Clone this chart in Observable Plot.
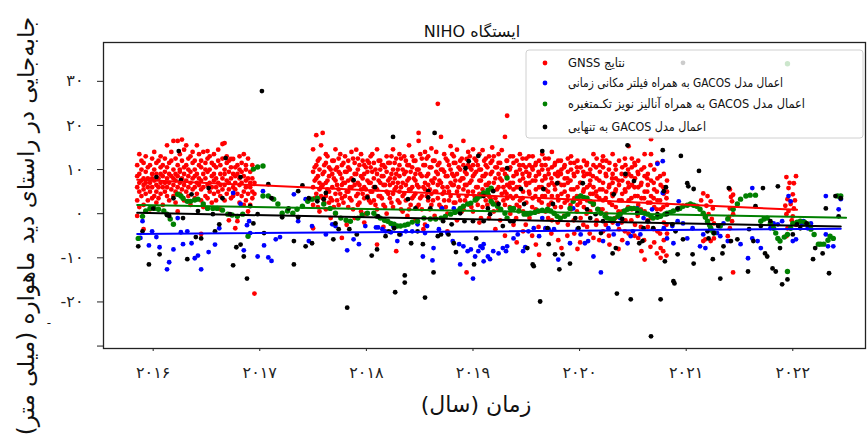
<!DOCTYPE html>
<html><head><meta charset="utf-8">
<script src="https://cdn.jsdelivr.net/npm/d3@7"></script>
<script src="https://cdn.jsdelivr.net/npm/@observablehq/plot@0.6"></script>
<style>body{margin:0;background:#fff}</style>
</head><body><div id="chart"></div>
<script>
const title = "ایستگاه NIHO";
const xLabel = "زمان (سال)";
const yLabel = "جابه‌جایی در راستای دید ماهواره (میلی متر)";
const seriesLabels = ["نتایج GNSS", "اعمال مدل GACOS به همراه فیلتر مکانی زمانی", "اعمال مدل GACOS به همراه آنالیز نویز تکـمتغیره", "اعمال مدل GACOS به تنهایی"];
const seriesColors = ["#ff0000", "#0000ff", "#008000", "#000000"];
const xTicks = [2016, 2017, 2018, 2019, 2020, 2021, 2022];
const yTicks = [-30, -20, -10, 0, 10, 20, 30];

// GNSS results: [time (year), displacement values (mm)]
const redCols = [
[2015.85,[6,8.5,11,3,-0.5]],[2015.87,[13.5,9,5,1.5,7]],[2015.89,[12,7.5,4,10]],[2015.91,[8,5.5,2,11.5,6.5,-3.5]],
[2015.93,[9.5,4.5,7,13]],[2015.95,[6,10.5,3,8]],[2015.97,[11,7,5,1]],[2015.99,[9,12.5,6,3.5,8]],
[2016.01,[7.5,10,4,14]],[2016.03,[5,9,11.5,6.5,2.5]],[2016.05,[8,12,3.5,6]],[2016.07,[10.5,7,4.5,13,9]],
[2016.09,[6,11,8.5,2]],[2016.11,[9.5,5,12.5,7]],[2016.13,[15.5,8,4,10.5,6]],[2016.15,[7,11.5,3,9]],
[2016.17,[12,5.5,8.5,14]],[2016.19,[6.5,10,16.5,4,8]],[2016.21,[9,12.5,5,7.5,2.5]],[2016.23,[16.5,11,6,8.5,0.5]],
[2016.25,[7,13.5,4.5,10,9.5]],[2016.27,[16.8,8,5.5,12]],[2016.29,[10.5,6.5,14.5,3,9]],[2016.31,[15.5,7.5,11,5]],
[2016.33,[8.5,12.5,4,10,6]],[2016.35,[9.5,13,7,2]],[2016.37,[11.5,5.5,8,14]],[2016.39,[6,10,12,3.5,8.5]],
[2016.41,[15.5,9,4.5,7]],[2016.43,[11,6.5,13.5,8]],[2016.45,[7.5,10.5,3,12,5.5,-4.6]],[2016.47,[14,9,6,1.5]],
[2016.49,[8,11.5,4,10]],[2016.51,[14.2,6.5,9.5,12.5,3.5]],[2016.53,[7,10,5,13]],[2016.55,[11.5,8.5,2.5,6]],
[2016.57,[13.5,9,4.5,7.5,11]],[2016.59,[6,10.5,3,8]],[2016.61,[12,7,14.5,5]],[2016.63,[9,4,11,1,6.5]],
[2016.65,[15.8,8,12.5,5.5]],[2016.67,[16,10,6.5,3,9]],[2016.69,[7.5,11.5,4.5,13]],[2016.71,[9.5,5.5,12,-1.5,7]],
[2016.73,[12.4,8,3.5,10.5]],[2016.75,[6,9,12.4,4]],[2016.77,[10.5,7,-3.3,5.5,8.5]],[2016.79,[11,4.5,9,-1.7]],
[2016.81,[13,6.5,8,2.5,10]],[2016.83,[7,11.5,4,9.5]],[2016.85,[13.5,8.5,5,2]],[2016.87,[10,6,3,11,7.5]],
[2016.89,[8,12.5,4.5,0.5]],[2016.91,[9.5,6,2,7]],[2016.93,[11,5,8,3.5]],[2016.95,[-18.1,7,4.5]],
[2017.50,[14.6,6,9.5,2,-3.3]],[2017.53,[17.8,8,4.5,11]],[2017.56,[10,5.5,12.5,0.5,7]],[2017.59,[18.3,9,3.5,6.5]],
[2017.62,[11.5,7,4,13.5,1]],[2017.65,[8.5,5,10.5,2.5]],[2017.68,[12,6,9,3]],[2017.71,[14.6,7.5,4.5,10,0]],
[2017.74,[9.5,5.5,12.5,2]],[2017.77,[6.5,11,3.5,-5.5,8]],[2017.80,[13,7,4,9.5]],[2017.83,[10.5,5,12,1.5,7.5]],
[2017.86,[8,14,3,6]],[2017.89,[11.5,6.5,9,-1]],[2017.92,[7,12.5,4.5,10,2]],[2017.95,[13.5,8.5,5.5,0.5]],
[2017.98,[9,6,11,3.5,-2]],[2018.01,[12,7.5,4,9.5]],[2018.04,[10.5,5,13,2.5,7]],[2018.07,[8,11.5,3,6]],
[2018.10,[14.6,9,5.5,1,-7]],[2018.13,[7,12,4,10]],[2018.16,[11,6.5,8.5,2,-3]],[2018.19,[13,9.5,5,0]],
[2018.22,[8,11.5,3.5,6.5]],[2018.25,[10,14.6,7,4.5,1.5]],[2018.28,[12.5,6,9,-8.5]],[2018.31,[8.5,11,5,2.5,13.5]],
[2018.34,[7,10,4,0.5]],[2018.37,[12,6.5,9.5,3]],[2018.40,[15.5,8,5.5,1,11]],[2018.43,[10.5,6,13,3.5]],
[2018.46,[7.5,12,4.5,9,-1.5]],[2018.49,[18.3,16.5,10,6,2]],[2018.52,[8.5,12.5,4,1]],[2018.55,[11,7,14,5.5,-2.5]],
[2018.58,[9,13,3,6.5]],[2018.61,[14.8,10.5,7.5,2,4.5]],[2018.64,[8,12,5,-0.5]],[2018.67,[24.9,11,6.5,3.5,9]],
[2018.70,[17.4,7,10,1.5]],[2018.73,[9.5,13.5,5,3]],[2018.76,[12,6,8.5,0,-4]],[2018.79,[15.3,10,4,7]],
[2018.82,[11.5,6.5,2.5,13,8.5]],[2018.85,[14.5,9,5,-1.5]],[2018.88,[12,7.5,3,10]],[2018.91,[16.5,8,5.5,1,11]],
[2018.94,[12.4,9,4,6.5,-13.3]],[2018.97,[10.5,7,2,13]],[2019.00,[8.5,14.6,5,0.5,11]],[2019.03,[12,6,9.5,3]],
[2019.06,[10,7.5,4.5,13.5,-2]],[2019.09,[14.4,8.5,5.5,1.5]],[2019.12,[11,6.5,3,9,12.5]],[2019.15,[13,7,4,-1]],
[2019.18,[9.5,12,5.5,2.5,15]],[2019.21,[8,10.5,3.5,-3.5]],[2019.24,[13.5,6,9,1,11.5]],[2019.27,[14.4,7.5,4.5,10]],
[2019.30,[17.4,9,5,2,-5]],[2019.32,[22.2,12,6.5,3.5]],[2019.35,[10.5,7,4,0,13]],[2019.38,[8.5,11.5,5.5,-2.5]],
[2019.41,[12,6,9,2,-6.5]],[2019.44,[10,7.5,3,13.5]],[2019.47,[8,11,5,0.5,-4]],[2019.50,[12.5,6.5,9.5,2.5]],
[2019.53,[9,4.5,11,-1,7]],[2019.56,[13,7.5,3.5,10]],[2019.59,[8.5,5.5,11.5,1,-7]],[2019.62,[12,6,9,-9.3,3]],
[2019.65,[10,4,7.5,13.5]],[2019.68,[8,11,5.5,0.5,-3.5]],[2019.71,[12.5,6.5,2,9]],[2019.74,[7,10.5,4,-1.5,14]],
[2019.77,[9,5.5,11.5,1.5]],[2019.80,[12,7,3,-6,9.5]],[2019.83,[6.5,10,4.5,-7.8]],[2019.86,[11,8,2.5,5]],
[2019.89,[7,12.5,4,-2.5,9.5]],[2019.92,[10,5.5,1,13]],[2019.95,[8.5,11.5,3.5,-4.5]],[2019.98,[6,9.5,2,12,-8]],
[2020.01,[10.5,7,4,-1]],[2020.04,[12,5.5,8.5,1.5]],[2020.07,[9,3,11.5,-3,6]],[2020.10,[7.5,10,4.5,0.5]],
[2020.13,[11,6,2.5,13.5,-5.5]],[2020.16,[8,12.5,4,-1.5]],[2020.19,[9.5,5.5,1,11]],[2020.22,[7,10.5,3,-4,13]],
[2020.25,[8.5,5,12,0]],[2020.28,[11.5,6.5,2.5,-7]],[2020.31,[9,4,13.5,-2,7]],[2020.34,[10,5.5,1.5,8]],
[2020.37,[12,6.5,-3.5,3]],[2020.40,[7.5,10.5,4.5,-6,0.5]],[2020.43,[11,5,8.5,-1.5]],[2020.46,[15.3,9,3,-4.5,6]],
[2020.49,[10.5,6.5,1,12.5]],[2020.52,[8,4,-2.5,11]],[2020.55,[12,6,2,-5.5,9]],[2020.58,[7,10,3.5,-8.5]],
[2020.61,[13.5,5,0.5,8.5,-10.4]],[2020.64,[9,6.5,-3,2.5]],[2020.67,[16.9,13.5,7.5,-1,4]],[2020.70,[10,5.5,-6.5,1.5]],
[2020.73,[8,3,-4,11.5]],[2020.76,[6.5,-7.8,1,-10]],[2020.79,[9,4.5,-2,-6]],[2020.82,[5,2,-4.5,7.5]],
[2017.515,[3.5,10.5,7.5]],[2017.545,[12,1.5,8.5]],[2017.575,[6,15.5,4]],[2017.605,[9.5,2.5,11]],
[2017.635,[5.5,13,7.5]],[2017.665,[10,3.5,-1]],[2017.695,[8,12,1.5]],[2017.725,[6.5,10.5,3]],
[2017.755,[9,4.5,13.5]],[2017.785,[11.5,7,2.5]],[2017.815,[5,9.5,-2.5]],[2017.845,[10,6,3.5]],
[2017.875,[12.5,7.5,1]],[2017.905,[4,9,14.5]],[2017.935,[6.5,11,2.5]],[2017.965,[8,4.5,12]],
[2017.995,[10.5,5.5,0]],[2018.025,[7,11.5,3]],[2018.055,[9.5,5,13.5]],[2018.085,[6,10,2]],
[2018.115,[12,7.5,4]],[2018.145,[8.5,3.5,11]],[2018.175,[6.5,10.5,1.5]],[2018.205,[11.5,4.5,7.5]],
[2018.235,[9,13,2.5]],[2018.265,[5.5,8,11.5]],[2018.295,[7,3,10]],[2018.325,[12.5,6,1]],
[2018.355,[9,4.5,13]],[2018.385,[7.5,11,-0.5]],[2018.415,[5.5,9.5,2]],[2018.445,[12,8,4]],
[2018.475,[6.5,10,1.5]],[2018.505,[9,13.5,3.5]],[2018.535,[6,11,-3.5]],[2018.565,[8.5,4,12.5]],
[2018.595,[10.5,5.5,1]],[2018.625,[7,12,3]],[2018.655,[9.5,5,14]],[2018.685,[11.5,7.5,2]],
[2018.715,[6,10,4.5]],[2018.745,[12.5,8.5,1.5]],[2018.775,[5,11,3]],[2018.805,[9,6.5,13.5]],
[2018.835,[7.5,11.5,2.5]],[2018.865,[10.5,4,6]],[2018.895,[8,12.5,0.5]],[2018.925,[6.5,9.5,3]],
[2018.955,[11,5,14]],[2018.985,[7.5,10,1.5]],[2019.015,[9,4,12.5]],[2019.045,[6,11,2]],
[2019.075,[10,7.5,-1]],[2019.105,[12,4.5,8.5]],[2019.135,[6.5,10.5,2]],[2019.165,[9,3.5,11.5]],
[2019.195,[7,13,0.5]],[2019.225,[10.5,5.5,2.5]],[2019.255,[8,11.5,-1.5]],[2019.285,[6,10,3]],
[2019.315,[8.5,4.5,12]],[2019.345,[10,6,1.5]],[2019.375,[7,13,3.5]],[2019.405,[9.5,4,-1]],
[2019.435,[6,11,1.5]],[2019.465,[9,3.5,12.5]],[2019.495,[7,10.5,-2.5]],[2019.525,[5,8.5,13]],
[2019.555,[10.5,1.5,-5]],[2019.585,[7.5,4,11]],[2019.615,[9.5,0.5,-3]],[2019.645,[6,11,2.5]],
[2019.675,[8.5,4,12.5]],[2019.705,[5,10,-1]],[2019.735,[8,2.5,-4.5]],[2019.765,[11,6.5,0]],
[2019.795,[4,8.5,-2]],[2019.825,[9,1.5,12]],[2019.855,[6.5,-0.5,10.5]],[2019.885,[3,8,-5]],
[2019.915,[7.5,11.5,2]],[2019.945,[5.5,-1.5,9]],[2019.975,[4,10.5,0.5]],[2020.005,[7,2.5,-6.5]],
[2020.035,[9.5,5,-2.5]],[2020.065,[3.5,11,0]],[2020.095,[6.5,-4.5,9]],[2020.125,[8.5,2,4.5]],
[2020.155,[10.5,5,-2.5]],[2020.185,[3.5,7.5,-6]],[2020.215,[5.5,1,12]],[2020.245,[9,-2.5,3.5]],
[2020.275,[6,10,-5]],[2020.305,[2,8,4.5]],[2020.335,[11,-1,5]],[2020.365,[7.5,0.5,-8]],
[2020.395,[9,3,-2]],[2020.425,[5.5,12.5,-4]],[2020.455,[7,1.5,10]],[2020.485,[3.5,-1.5,8.5]],
[2020.515,[6,-5,11.5]],[2020.545,[4,9.5,-0.5]],[2020.575,[6.5,-3,1]],[2020.605,[10.5,3.5,-6]],
[2020.635,[5,-1.5,8]],[2020.665,[2.5,11,-7.5]],[2020.695,[7,-3.5,3.5]],[2020.725,[5,-9,1]],
[2020.755,[3,-4.5,8.5]],[2020.785,[1.5,-8.5,6]],[2020.815,[3.5,-2.5,-9.5]],
[2021.14,[3]],[2021.16,[4.6,-0.1,-6.2]],[2021.18,[-5.8]],[2021.19,[1.8]],[2021.20,[4]],[2021.21,[-0.1]],
[2021.23,[2.8,-3.3,-6.2]],[2021.24,[-1.2]],[2021.25,[1.2]],[2021.26,[-2.2,-5.6]],
[2021.39,[-5.1]],[2021.40,[-0.8]],[2021.41,[5.5,1.2,-3.3,-6.2]],[2021.42,[3.8]],[2021.43,[2.8,-1.7]],[2021.44,[4.3,-0.1,-13.3]],
[2021.93,[1.8]],[2021.94,[8.3,-0.1,-5.1]],[2021.95,[3.3,-3.3]],[2021.96,[5.8,0.6]],[2021.97,[7]],[2021.98,[2.2]],
[2021.99,[-1.5]],[2022.00,[4.4,-0.6]],[2022.01,[6.9,1.2]],[2022.02,[3]],[2022.03,[8.5,-2.5]]
];

// GACOS + spatio-temporal filter: [time, value]
const blue = [
[2015.90,-1.7],[2015.88,-5.5],[2015.96,-7.2],[2015.99,-4.0],[2016.03,-5.3],[2016.06,-7.6],[2016.13,-12.6],[2016.15,-11.0],
[2016.19,-8.1],[2016.23,-1.0],[2016.26,-4.2],[2016.28,-6.9],[2016.32,-4.0],[2016.36,-6.7],[2016.39,-10.1],[2016.42,-9.5],
[2016.45,-12.6],[2016.52,-8.7],[2016.58,-7.0],[2016.62,-3.3],[2016.75,4.7],[2016.82,2.2],[2016.85,-8.3],[2016.88,-2.6],
[2016.90,-1.7],[2016.91,-4.4],[2016.98,-9.7],[2017.03,5.1],[2017.04,-7.2],[2017.08,-9.9],[2017.11,-10.7],[2017.15,-5.8],
[2017.19,-5.3],[2017.32,4.4],[2017.36,-1.7],[2017.43,3.3],[2017.49,-2.8],[2017.46,-6.2],[2017.62,-4.7],[2017.68,-2.4],
[2017.71,-2.8],[2017.82,-8.3],[2017.88,-5.8],[2017.93,-6.9],[2017.99,-2.8],[2018.09,-3.1],[2018.11,-3.1],[2018.15,-3.5],
[2018.18,-4.0],[2018.23,-4.2],[2018.25,-2.8],[2018.29,-6.2],[2018.32,-4.7],[2018.37,-4.0],[2018.43,-4.0],[2018.48,-2.4],
[2018.53,-9.7],[2018.55,-4.4],[2018.57,-2.8],[2018.62,-10.6],[2018.63,-7.8],[2018.68,-3.5],[2018.71,1.2],[2018.76,-4.4],
[2018.81,-6.2],[2018.82,1.2],[2018.87,-6.9],[2018.88,-11.5],[2018.91,-7.4],[2018.95,-8.5],[2018.98,-8.1],[2019.00,-14.7],
[2019.02,-9.7],[2019.05,-8.5],[2019.09,-7.8],[2019.10,-6.9],[2019.14,-9.7],[2019.16,-10.3],[2019.07,-7.4],[2019.10,-10.8],
[2019.19,-8.5],[2019.24,-9.0],[2019.28,-7.8],[2019.31,-8.5],[2019.32,-7.4],[2019.38,-5.6],[2019.42,-4.7],[2019.47,-8.5],
[2019.49,-7.6],[2019.52,-4.0],[2019.57,-3.3],[2019.62,-5.1],[2019.65,-1.0],[2019.68,-3.3],[2019.71,-3.5],[2019.76,-3.5],
[2019.80,-10.4],[2019.91,-6.7],[2019.94,1.2],[2019.98,-3.5],[2020.01,-4.7],[2020.05,-6.7],[2020.08,-6.2],[2020.13,-9.7],
[2020.20,-13.3],[2020.22,-6.2],[2020.27,-3.3],[2020.32,-4.7],[2020.36,-2.4],[2020.38,-1.0],[2020.45,-6.7],[2020.48,-5.1],
[2020.50,-4.0],[2020.54,1.2],[2020.57,-4.7],[2020.60,-1.0],[2020.64,-1.7],[2020.68,1.0],[2020.73,11.3],[2020.78,11.9],
[2020.78,4.7],[2020.79,-3.3],[2020.82,-5.6],[2020.87,-2.8],[2020.88,-6.7],[2020.92,-1.7],[2020.93,2.8],[2020.97,-2.2],
[2021.01,-5.6],[2021.06,-3.3],[2021.13,-7.4],[2021.18,-7.8],[2021.16,-4.7],[2021.29,-4.4],[2021.32,-5.1],[2021.35,-2.2],
[2021.39,-6.2],[2021.51,-6.9],[2021.44,1.0],[2021.58,-10.1],[2021.62,5.8],[2021.62,-5.6],[2021.67,-6.2],[2021.70,-7.8],
[2021.79,-3.3],[2021.82,-2.2],[2021.86,-2.4],[2021.90,-1.7],[2021.96,4.0],[2021.98,2.8],[2022.00,-6.2],[2022.03,-5.8],
[2022.09,-2.4],[2022.10,-1.7],[2022.14,-3.3],[2022.17,-2.2],[2022.31,4.0],[2022.31,-4.7],[2022.33,-7.4],[2022.38,-7.4],
[2022.43,1.0],[2022.45,3.3]
];

// GACOS + variable noise analysis: [time, value]
const green = [
[2015.86,-5.6],[2015.90,-0.6],[2015.93,0.6],[2015.97,1.2],[2016.01,1.2],[2016.05,1.0],[2016.10,0.6],[2016.13,-0.1],
[2016.16,-1.2],[2016.19,-2.4],[2016.23,4.4],[2016.26,4.0],[2016.28,3.5],[2016.32,2.8],[2016.35,2.8],[2016.39,3.1],
[2016.42,3.3],[2016.47,2.2],[2016.51,1.2],[2016.56,1.2],[2016.60,1.2],[2016.65,0.8],[2016.70,-0.1],[2016.74,-0.3],
[2016.79,-0.6],[2016.84,-0.1],[2016.89,-5.1],[2016.94,10.1],[2016.98,10.6],[2017.03,10.8],[2017.03,4.0],[2017.08,4.0],
[2017.13,3.3],[2017.17,2.2],[2017.21,0.1],[2017.26,0.6],[2017.31,0.1],[2017.35,1.0],[2017.40,1.7],[2017.45,2.8],
[2017.49,3.3],[2017.54,3.5],[2017.60,2.2],[2017.66,1.2],[2017.71,0.1],[2017.76,-1.0],[2017.81,-1.5],[2017.85,-1.7],
[2017.92,-1.0],[2017.96,-0.3],[2018.01,0.1],[2018.07,0.1],[2018.10,-0.6],[2018.13,-1.0],[2018.17,-1.5],[2018.20,-1.7],
[2018.23,-2.2],[2018.26,-2.4],[2018.29,-2.8],[2018.32,-2.8],[2018.36,-2.6],[2018.39,-2.4],[2018.43,-1.9],[2018.48,-1.7],
[2018.54,-1.0],[2018.60,-1.2],[2018.65,-1.2],[2018.70,-1.0],[2018.74,-0.6],[2018.79,-0.1],[2018.83,0.3],[2018.86,0.6],
[2018.88,1.2],[2018.91,1.7],[2018.95,2.2],[2018.98,2.4],[2019.02,3.1],[2019.04,3.5],[2019.07,4.0],[2019.10,4.7],
[2019.14,5.3],[2019.17,5.8],[2019.14,4.4],[2019.17,2.8],[2019.19,2.2],[2019.23,1.7],[2019.26,1.0],[2019.30,0.1],
[2019.32,-1.0],[2019.35,1.2],[2019.38,1.2],[2019.32,8.1],[2019.43,0.6],[2019.48,-0.1],[2019.51,-0.1],[2019.54,0.1],
[2019.58,0.3],[2019.61,0.6],[2019.65,0.8],[2019.70,1.0],[2019.73,0.6],[2019.76,0.1],[2019.79,-0.6],[2019.82,-1.0],
[2019.86,-0.6],[2019.89,-0.1],[2019.91,1.2],[2019.94,2.8],[2019.98,3.5],[2020.01,4.0],[2020.04,3.7],[2020.07,3.5],
[2020.10,2.8],[2020.13,2.2],[2020.17,1.0],[2020.20,0.1],[2020.24,-0.6],[2020.26,-1.0],[2020.29,-1.2],[2020.32,-1.2],
[2020.36,-0.6],[2020.38,-0.1],[2020.42,0.6],[2020.45,1.0],[2020.48,1.2],[2020.51,1.2],[2020.54,1.0],[2020.57,0.6],
[2020.61,0.1],[2020.64,-0.1],[2020.67,-0.6],[2020.69,-1.0],[2020.73,-0.8],[2020.76,-0.6],[2020.80,-0.1],[2020.82,0.1],
[2020.85,0.3],[2020.88,0.6],[2020.92,1.0],[2020.94,1.2],[2020.97,1.7],[2021.01,1.9],[2021.04,2.2],[2021.07,1.9],
[2021.10,1.7],[2021.13,1.0],[2021.16,0.1],[2021.18,-0.8],[2021.20,-1.7],[2021.22,-2.6],[2021.23,-3.3],[2021.25,-4.0],
[2021.26,-4.4],[2021.32,-2.8],[2021.39,-1.2],[2021.44,1.0],[2021.48,2.2],[2021.51,3.3],[2021.56,4.0],[2021.60,4.2],
[2021.65,4.2],[2021.70,-1.7],[2021.73,-1.2],[2021.76,-1.0],[2021.79,-2.2],[2021.82,-3.3],[2021.84,-4.4],[2021.86,-5.6],
[2021.88,-6.2],[2021.92,-5.3],[2021.95,-4.7],[2021.98,-3.3],[2022.00,-2.2],[2022.04,-1.9],[2022.07,-1.7],[2022.11,-1.9],
[2022.14,-2.4],[2022.17,-3.5],[2022.20,-4.7],[2022.24,-6.9],[2022.26,-6.9],[2022.29,-6.9],[2022.33,-6.0],[2022.35,-5.1],
[2022.38,-5.6],[2022.42,4.0],[2022.45,4.0],[2021.95,-13.1],[2021.95,34.0]
];

// GACOS only: [time, value]
const black = [
[2015.86,-7.4],[2015.90,-4.0],[2015.96,-11.5],[2016.00,1.2],[2016.03,8.3],[2016.06,-9.2],[2016.13,-0.3],[2016.15,-0.5],
[2016.19,3.5],[2016.24,14.2],[2016.26,7.6],[2016.28,-1.0],[2016.32,-10.3],[2016.36,4.4],[2016.40,-5.3],[2016.42,0.6],
[2016.45,-5.6],[2016.52,5.8],[2016.56,-0.1],[2016.58,-4.0],[2016.62,-2.4],[2016.65,3.5],[2016.68,12.6],[2016.72,-0.1],
[2016.75,-11.7],[2016.78,-7.6],[2016.82,-7.0],[2016.82,8.3],[2016.85,-9.7],[2016.88,-14.7],[2016.91,1.7],[2016.94,-2.2],
[2016.98,-0.1],[2017.02,27.8],[2017.04,-4.4],[2017.08,6.7],[2017.11,3.5],[2017.21,-0.8],[2017.27,1.2],[2017.32,-11.5],
[2017.32,-6.2],[2017.36,5.1],[2017.36,-0.8],[2017.40,6.4],[2017.46,3.5],[2017.43,-7.4],[2017.49,-6.7],[2017.54,2.8],
[2017.60,3.3],[2017.62,4.7],[2017.71,-2.2],[2017.74,-3.5],[2017.69,-5.8],[2017.82,-21.3],[2017.84,-3.5],[2017.88,7.6],
[2017.91,-4.7],[2018.01,3.7],[2018.05,-9.5],[2018.08,6.0],[2018.10,-8.1],[2018.11,-0.6],[2018.18,-5.1],[2018.21,-4.0],
[2018.25,17.4],[2018.26,-3.3],[2018.27,-17.8],[2018.31,-4.7],[2018.36,-15.6],[2018.36,-14.0],[2018.39,3.3],[2018.42,-6.7],
[2018.46,1.2],[2018.48,-4.0],[2018.53,-6.9],[2018.55,-19.0],[2018.58,5.1],[2018.58,3.7],[2018.60,1.2],[2018.63,-13.3],
[2018.64,18.3],[2018.67,-5.1],[2018.70,-4.7],[2018.72,-1.7],[2018.77,-4.7],[2018.80,-2.4],[2018.82,-6.7],[2018.84,-8.7],
[2018.88,0.1],[2018.92,-1.7],[2018.93,10.3],[2018.96,11.9],[2019.00,-1.7],[2019.01,-11.5],[2019.03,-5.6],[2019.05,13.1],
[2019.10,4.0],[2019.14,1.2],[2019.16,-0.1],[2019.10,-1.7],[2019.19,5.1],[2019.24,2.2],[2019.28,-2.8],[2019.32,10.3],
[2019.35,-1.7],[2019.38,-1.7],[2019.45,5.6],[2019.48,2.2],[2019.51,-7.8],[2019.56,-11.5],[2019.57,-11.9],[2019.63,-19.9],
[2019.65,14.2],[2019.66,5.6],[2019.70,-3.3],[2019.71,-6.9],[2019.75,2.2],[2019.77,-9.2],[2019.79,6.9],[2019.81,-12.6],
[2019.84,-9.2],[2019.91,-11.3],[2019.96,-1.0],[2019.99,-3.3],[2020.03,6.9],[2020.07,1.0],[2020.10,-1.0],[2020.15,-0.1],
[2020.20,-4.4],[2020.22,-1.7],[2020.31,-9.0],[2020.32,4.4],[2020.34,-7.8],[2020.35,-18.1],[2020.40,-1.2],[2020.43,9.0],
[2020.45,15.5],[2020.48,-19.4],[2020.51,7.4],[2020.54,0.1],[2020.56,-6.7],[2020.59,-6.2],[2020.60,-3.3],[2020.64,-1.7],
[2020.67,-27.8],[2020.69,-3.3],[2020.73,-0.1],[2020.76,-19.4],[2020.78,14.4],[2020.79,5.1],[2020.80,-10.8],[2020.81,6.0],
[2020.82,-0.1],[2020.87,-2.4],[2020.88,-15.3],[2020.90,-4.0],[2020.92,1.2],[2020.95,13.1],[2021.12,9.7],[2021.01,6.9],
[2021.02,6.2],[2021.07,5.6],[2020.89,-15.8],[2020.92,-9.2],[2020.97,-5.8],[2021.07,-11.3],[2021.06,-9.2],[2021.20,-4.0],
[2021.21,-5.6],[2021.26,-4.4],[2021.30,-2.8],[2021.34,-9.0],[2021.35,-7.4],[2021.25,-10.3],[2021.32,-14.7],[2021.40,5.8],
[2021.42,-6.2],[2021.48,-5.8],[2021.58,-13.1],[2021.59,-3.5],[2021.63,-6.2],[2021.65,1.7],[2021.72,5.8],[2021.74,-9.0],
[2021.76,-9.7],[2021.70,-2.8],[2021.79,-1.7],[2021.81,-12.4],[2021.84,-13.1],[2021.86,6.2],[2021.88,-7.8],[2021.90,-16.0],
[2021.95,-14.9],[2022.00,-4.7],[2022.04,-2.4],[2022.07,-3.3],[2022.13,-2.2],[2022.19,-10.3],[2022.21,-7.8],[2022.28,-9.0],
[2022.31,1.2],[2022.34,-13.5],[2022.40,4.0],[2022.43,-0.6],[2022.45,3.5],[2020.97,34.2]
];

// linear trends: [start, end] as [time, value]
const trendRed = [[2015.85, 7.7], [2022.04, 0.9]];
const trendGreen = [[2015.85, 2.0], [2022.50, -0.9]];
const trendBlack = [[2015.85, 0.2], [2022.45, -2.9]];
const trendBlue = [[2015.85, -4.6], [2022.45, -3.4]];

const fa = s => String(s).replace(/\d/g, d => "۰۱۲۳۴۵۶۷۸۹"[+d]);
const RLI = "\u2067", PDI = "\u2069";
const rtl = s => RLI + s + PDI;
const red = redCols.flatMap(([t, vs]) => vs.map(v => [t, v]));
const FONT = "DejaVu Sans";

const dotOpts = (c, r = 2.4) => ({x: d => d[0], y: d => d[1], r, fill: c, stroke: "none"});
const lineOpts = c => ({x: d => d[0], y: d => d[1], stroke: c, strokeWidth: 2});

const chart = Plot.plot({
  width: 867, height: 444,
  marginLeft: 103, marginRight: 2, marginTop: 42, marginBottom: 96,
  style: {background: "white", fontFamily: FONT, color: "#222"},
  x: {domain: [2015.534, 2022.682]},
  y: {domain: [-30.55, 38.8]},
  marks: [
    Plot.axisY({ticks: yTicks, tickFormat: d => d === -30 ? "" : fa(d), tickSize: 6, tickPadding: 14, fontSize: 16, label: null}),
    Plot.axisX({ticks: xTicks, tickFormat: d => fa(d), tickSize: 3, tickPadding: 15, fontSize: 16, label: null}),
    Plot.dot(red, dotOpts(seriesColors[0])),
    Plot.dot(blue, dotOpts(seriesColors[1])),
    Plot.dot(green, dotOpts(seriesColors[2], 2.7)),
    Plot.dot(black, dotOpts(seriesColors[3])),
    Plot.line(trendRed, lineOpts(seriesColors[0])),
    Plot.line(trendGreen, lineOpts(seriesColors[2])),
    Plot.line(trendBlack, lineOpts(seriesColors[3])),
    Plot.line(trendBlue, lineOpts(seriesColors[1])),
    Plot.frame({stroke: "#222", strokeWidth: 1.3})
  ]
});
document.getElementById("chart").appendChild(chart);

const svg = d3.select(chart);
svg.append("text").attr("x", 472).attr("y", 31).attr("dy", "0.35em")
  .attr("text-anchor", "middle").attr("font-family", FONT).attr("font-size", 16).attr("fill", "#111")
  .text(rtl(title));
svg.append("text").attr("x", 476).attr("y", 404).attr("dy", "0.35em")
  .attr("text-anchor", "middle").attr("font-family", FONT).attr("font-size", 22).attr("fill", "#111")
  .text(rtl(xLabel));
svg.append("text").attr("transform", "translate(26,226) rotate(-90)").attr("dy", "0.35em")
  .attr("text-anchor", "middle").attr("font-family", FONT).attr("font-size", 23).attr("fill", "#111")
  .text(rtl(yLabel));
svg.append("text").attr("x", 49).attr("y", 323).attr("dy", "0.35em").attr("text-anchor", "middle")
  .attr("font-family", FONT).attr("font-size", 12).attr("fill", "#111").text("-");

const lg = svg.append("g");
lg.append("rect").attr("x", 526).attr("y", 50).attr("width", 337).attr("height", 88).attr("rx", 3)
  .attr("fill", "white").attr("fill-opacity", 0.8).attr("stroke", "#d0d0d0");
const rowsY = [63, 83, 104, 127];
const rowsW = [57, 215, 237, 138];
seriesLabels.forEach((lab, i) => {
  lg.append("circle").attr("cx", 545).attr("cy", rowsY[i]).attr("r", 2.4).attr("fill", seriesColors[i]);
  lg.append("text").attr("x", 568).attr("y", rowsY[i]).attr("dy", "0.35em").attr("text-anchor", "start")
    .attr("font-family", FONT).attr("font-size", 12.5).attr("fill", "#111")
    .attr("textLength", rowsW[i]).attr("lengthAdjust", "spacingAndGlyphs").text(rtl(lab));
});
</script>
</body></html>
